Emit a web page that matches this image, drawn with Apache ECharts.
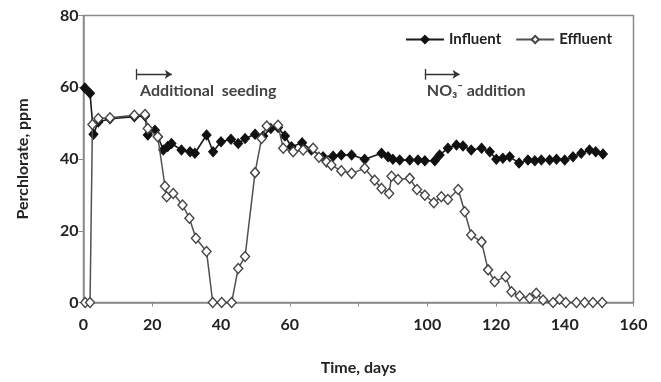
<!DOCTYPE html>
<html>
<head>
<meta charset="utf-8">
<script src="https://cdn.jsdelivr.net/npm/echarts@6/dist/echarts.min.js"></script>
<style>html,body{margin:0;padding:0;background:#fff}#c{width:661px;height:382px}</style>
</head>
<body>
<div id="c"></div>
<script>
// Influent perchlorate (day, ppm)
var influentDays = [0.4,1.9,2.9,4.3,7.7,14.8,17.9,18.7,20.8,21.7,23.2,24.5,25.6,28.5,31,32.4,35.8,37.7,40,42.9,45,47,49.9,52.3,54.5,56.6,58.6,60.5,63.6,66.3,69.7,72.6,75,78,81.8,86.7,88.6,90,92,94.9,97.3,99.3,102.2,103.6,106,108.5,110.4,112.8,115.8,118.2,120.1,122,124,126.7,129.3,131.3,133.2,135.6,137.6,140,142.4,144.8,147.2,149,151.1];
var influentVals = [59.8,58.3,46.9,50.3,51.2,51.8,52,46.7,48,46.2,42.5,43.5,44.3,42.5,42,41.6,46.7,42,44.8,45.5,44.3,45.7,46.9,46.4,48.5,48.8,46.4,43.4,44.5,42.5,40.6,40.8,41.1,41.1,39.9,41.6,40.6,39.9,39.7,39.7,39.7,39.5,39.5,41.1,43,43.9,43.6,42.5,43,42,39.9,40.2,40.6,38.9,39.7,39.5,39.7,39.7,39.9,39.7,40.6,41.6,42.5,42,41.4];
// Effluent perchlorate (day, ppm)
var effluentDays = [0.5,1.9,2.6,4.3,7.7,14.8,17.9,18.7,21.6,23.7,24.2,26.1,28.8,30.8,32.7,35.8,37.6,40.2,43.1,45,47,49.9,51.8,53.3,56.6,58.1,61,63.9,66.8,68.5,70.7,72.1,75,78,81.8,84.7,86.7,88.9,89.6,91.5,94.9,97,99.3,101.9,104.1,106,109,110.9,112.8,115.8,117.7,119.6,122.8,124.5,126.9,129.8,131.7,133.7,136.6,138.5,140.3,143.4,145.8,148.2,150.9];
var effluentVals = [0,0,49.6,51.3,51.5,52.2,52.4,48.5,46.2,32.4,29.5,30.4,27.2,23.5,17.9,14.2,0,0,0,9.5,12.8,36.2,45.7,49.2,49.4,43,42,42.5,43,40.5,39.2,38.3,36.7,36,37.4,34.1,31.8,30.4,35.2,34.3,34.6,31.5,29.9,27.8,29.5,28.7,31.5,25.3,18.8,16.9,9.1,5.8,7.2,3.0,1.8,1.2,2.6,0.7,0,0.9,0,0,0,0,0];
// Axis ticks
var xTicks = [0,20,40,60,80,100,120,140,160];
var xHiddenLabels = [80];
var yTicks = [0,20,40,60,80];
// Annotation arrows: [startDay, endDay, level]
var seedingArrow = [15.3, 25.7, 63.6];
var nitrateArrow = [99.3, 109.4, 63.6];
var seriesNames = ['Influent','Effluent'];

function zip(a,b){return a.map(function(v,i){return [v,b[i]];});}
var FONT = 'Lato, "Open Sans", sans-serif';
var axisColor = '#8a8a8a';

var chart = echarts.init(document.getElementById('c'), null, {renderer:'canvas'});
function arrowLine(a){
  return [
    [{coord:[a[0],a[2]]},{coord:[a[1],a[2]]}],
    [{coord:[a[0],a[2]-1.5],symbol:'none'},{coord:[a[0],a[2]+1.5],symbol:'none'}]
  ];
}
chart.setOption({
  animation:false,
  backgroundColor:'#ffffff',
  textStyle:{fontFamily:FONT},
  grid:{left:83.5,right:27.5,top:15.5,bottom:79.5,show:true,borderColor:axisColor,borderWidth:1.5,backgroundColor:'transparent'},
  legend:{
    right:44,top:27,itemGap:14,itemWidth:38,itemHeight:9,
    textStyle:{fontFamily:FONT,fontWeight:'bold',fontSize:15,color:'#222'},
    data:seriesNames
  },
  xAxis:{
    type:'value',min:xTicks[0],max:xTicks[xTicks.length-1],interval:20,
    name:'Time, days',nameLocation:'middle',nameGap:57,
    nameTextStyle:{fontFamily:FONT,fontWeight:'bold',fontSize:16,color:'#222'},
    axisLine:{show:true,lineStyle:{color:axisColor,width:1.5}},
    axisTick:{show:true,length:4,lineStyle:{color:axisColor}},
    axisLabel:{margin:14,fontFamily:FONT,fontWeight:'bold',fontSize:16,color:'#222',
      formatter:function(v){return xHiddenLabels.indexOf(v)>=0?'':String(v);}},
    splitLine:{show:false}
  },
  yAxis:{
    type:'value',min:yTicks[0],max:yTicks[yTicks.length-1],interval:20,
    name:'Perchlorate, ppm',nameLocation:'middle',nameGap:53,
    nameTextStyle:{fontFamily:FONT,fontWeight:'bold',fontSize:16,color:'#222'},
    axisLine:{show:true,lineStyle:{color:axisColor,width:1.5}},
    axisTick:{show:true,length:5,lineStyle:{color:axisColor}},
    axisLabel:{margin:5,fontFamily:FONT,fontWeight:'bold',fontSize:16,color:'#222'},
    splitLine:{show:false}
  },
  series:[
    {
      name:seriesNames[0],type:'line',data:zip(influentDays,influentVals),
      symbol:'diamond',symbolSize:[9,10],z:2,
      lineStyle:{color:'#1a1a1a',width:1.6},
      itemStyle:{color:'#111',borderColor:'#111',borderWidth:1}
    },
    {
      name:seriesNames[1],type:'line',data:zip(effluentDays,effluentVals),
      symbol:'diamond',symbolSize:[9,10],z:3,
      lineStyle:{color:'#505050',width:1.5},
      itemStyle:{color:'#ffffff',borderColor:'#444',borderWidth:1.4},
      markLine:{
        silent:true,symbol:['none','arrow'],symbolSize:7,
        lineStyle:{color:'#333',width:1.3,type:'solid'},
        label:{show:false},
        data:arrowLine(seedingArrow).concat(arrowLine(nitrateArrow))
      }
    }
  ]
});

function addTexts(){
  var p1 = chart.convertToPixel({gridIndex:0},[seedingArrow[0],seedingArrow[2]]);
  var p2 = chart.convertToPixel({gridIndex:0},[nitrateArrow[0],nitrateArrow[2]]);
  chart.setOption({graphic:[
    {type:'text',left:p1[0]+4,top:p1[1]+9,style:{text:'Additional  seeding',font:'bold 16px '+FONT,fill:'#444'}},
    {type:'text',left:p2[0]+2,top:p2[1]+9,style:{text:'NO\u2083\u207B addition',font:'bold 16px '+FONT,fill:'#444'}}
  ]});
}
addTexts();
</script>
</body>
</html>
